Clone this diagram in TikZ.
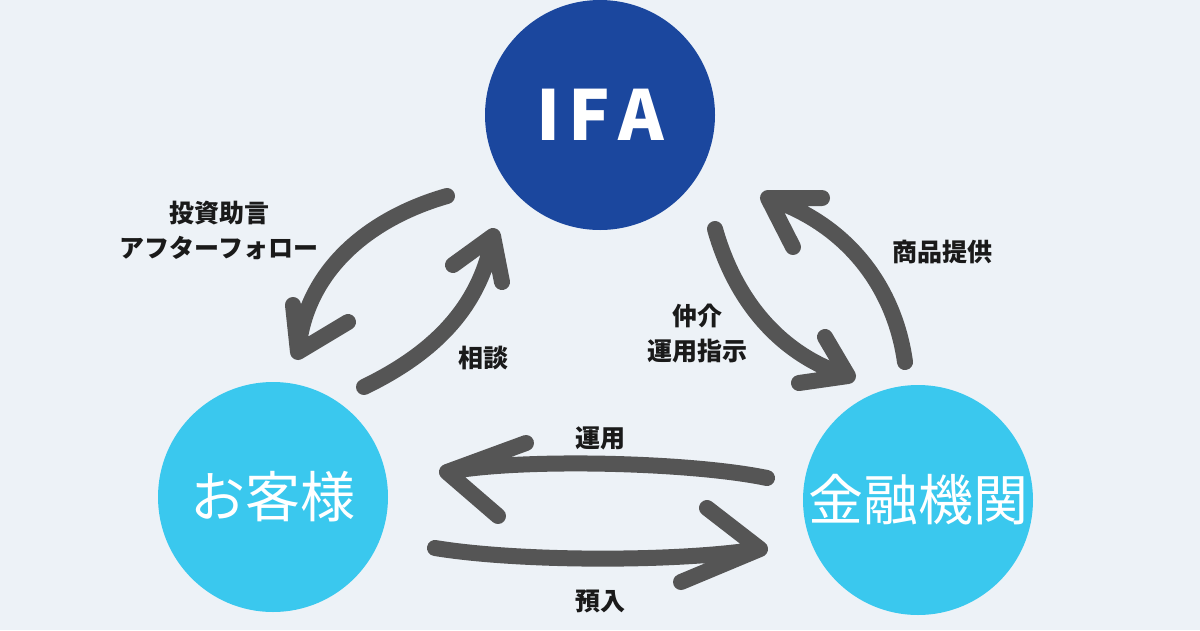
\documentclass[tikz,border=0pt]{standalone}
\usepackage{fontspec}
\usepackage{xcolor}
\usepackage{tikz}
\usetikzlibrary{calc, positioning}

\newfontfamily\jpfont{Noto Sans CJK JP}

\definecolor{bgcol}{HTML}{EDF2F7}
\definecolor{ifablue}{HTML}{1B479E}
\definecolor{custblue}{HTML}{3AC8EE}
\definecolor{arrowgray}{HTML}{555555}
\definecolor{txtcol}{HTML}{1A1A1A}

\begin{document}
\begin{tikzpicture}[x=1pt, y=-1pt,
    maru/.style={circle, minimum size=230pt, inner sep=0pt, text=white},
    yajirushi/.style={draw=arrowgray, line width=16pt, line cap=round, line join=round},
    setsumei/.style={font=\jpfont\bfseries\fontsize{25}{35}\selectfont, text=txtcol, align=center}]

    \useasboundingbox (0,0) rectangle (1200,630);
    \fill[bgcol] (0,0) rectangle (1200,630);

    % =================================================================
    % 1. 三つの円
    % =================================================================
    \node[maru, fill=ifablue, font=\jpfont\bfseries\fontsize{69}{69}\selectfont] (ifa) at (600,115) {I\hspace{8pt}F\hspace{8pt}A};
    \node[maru, fill=custblue, font=\jpfont\fontsize{55}{55}\selectfont] (kyaku) at (273,497) {お客様};
    \node[maru, fill=custblue, font=\jpfont\fontsize{55}{55}\selectfont] (kikan) at (918,500) {金融機関};

    % =================================================================
    % 2. 矢印の端点
    % =================================================================
    \coordinate (jogen-s) at (447,196);
    \coordinate (jogen-e) at (298,352);
    \coordinate (sodan-s) at (364,387);
    \coordinate (sodan-e) at (493,236);
    \coordinate (chukai-s) at (715,229);
    \coordinate (chukai-e) at (848,376);
    \coordinate (teikyo-s) at (905,362);
    \coordinate (teikyo-e) at (768,198);
    \coordinate (unyo-s) at (767,478);
    \coordinate (unyo-e) at (447,472);
    \coordinate (azuke-s) at (435,548);
    \coordinate (azuke-e) at (760,549);

    % =================================================================
    % 3. 手書き風の矢印
    % =================================================================
    \draw[yajirushi] (jogen-s) .. controls (370,218) and (305,270) .. (jogen-e)
        (293,305) -- (jogen-e) -- (348,322);
    \draw[yajirushi] (sodan-s) .. controls (430,355) and (480,310) .. (sodan-e)
        (453,265) -- (sodan-e) -- (502,282);
    \draw[yajirushi] (chukai-s) .. controls (735,300) and (780,355) .. (chukai-e)
        (825,337) -- (chukai-e) -- (799,383);
    \draw[yajirushi] (teikyo-s) .. controls (895,290) and (850,225) .. (teikyo-e)
        (822,198) -- (teikyo-e) -- (793,247);
    \draw[yajirushi] (unyo-s) .. controls (690,462) and (520,458) .. (unyo-e)
        (526,443) -- (unyo-e) -- (498,516);
    \draw[yajirushi] (azuke-s) .. controls (520,562) and (680,562) .. (azuke-e)
        (707,508) -- (azuke-e) -- (681,582);

    % =================================================================
    % 4. ラベル
    % =================================================================
    \node[setsumei] (l-jogen) at (219,230) {投資助言\\アフターフォロー};
    \node[setsumei] (l-sodan) at (483,358) {相談};
    \node[setsumei] (l-chukai) at (697,334) {仲介\\運用指示};
    \node[setsumei] (l-teikyo) at (942,252) {商品提供};
    \node[setsumei] (l-unyo) at (600,438) {運用};
    \node[setsumei] (l-azuke) at (600,601) {預入};

\end{tikzpicture}
\end{document}
